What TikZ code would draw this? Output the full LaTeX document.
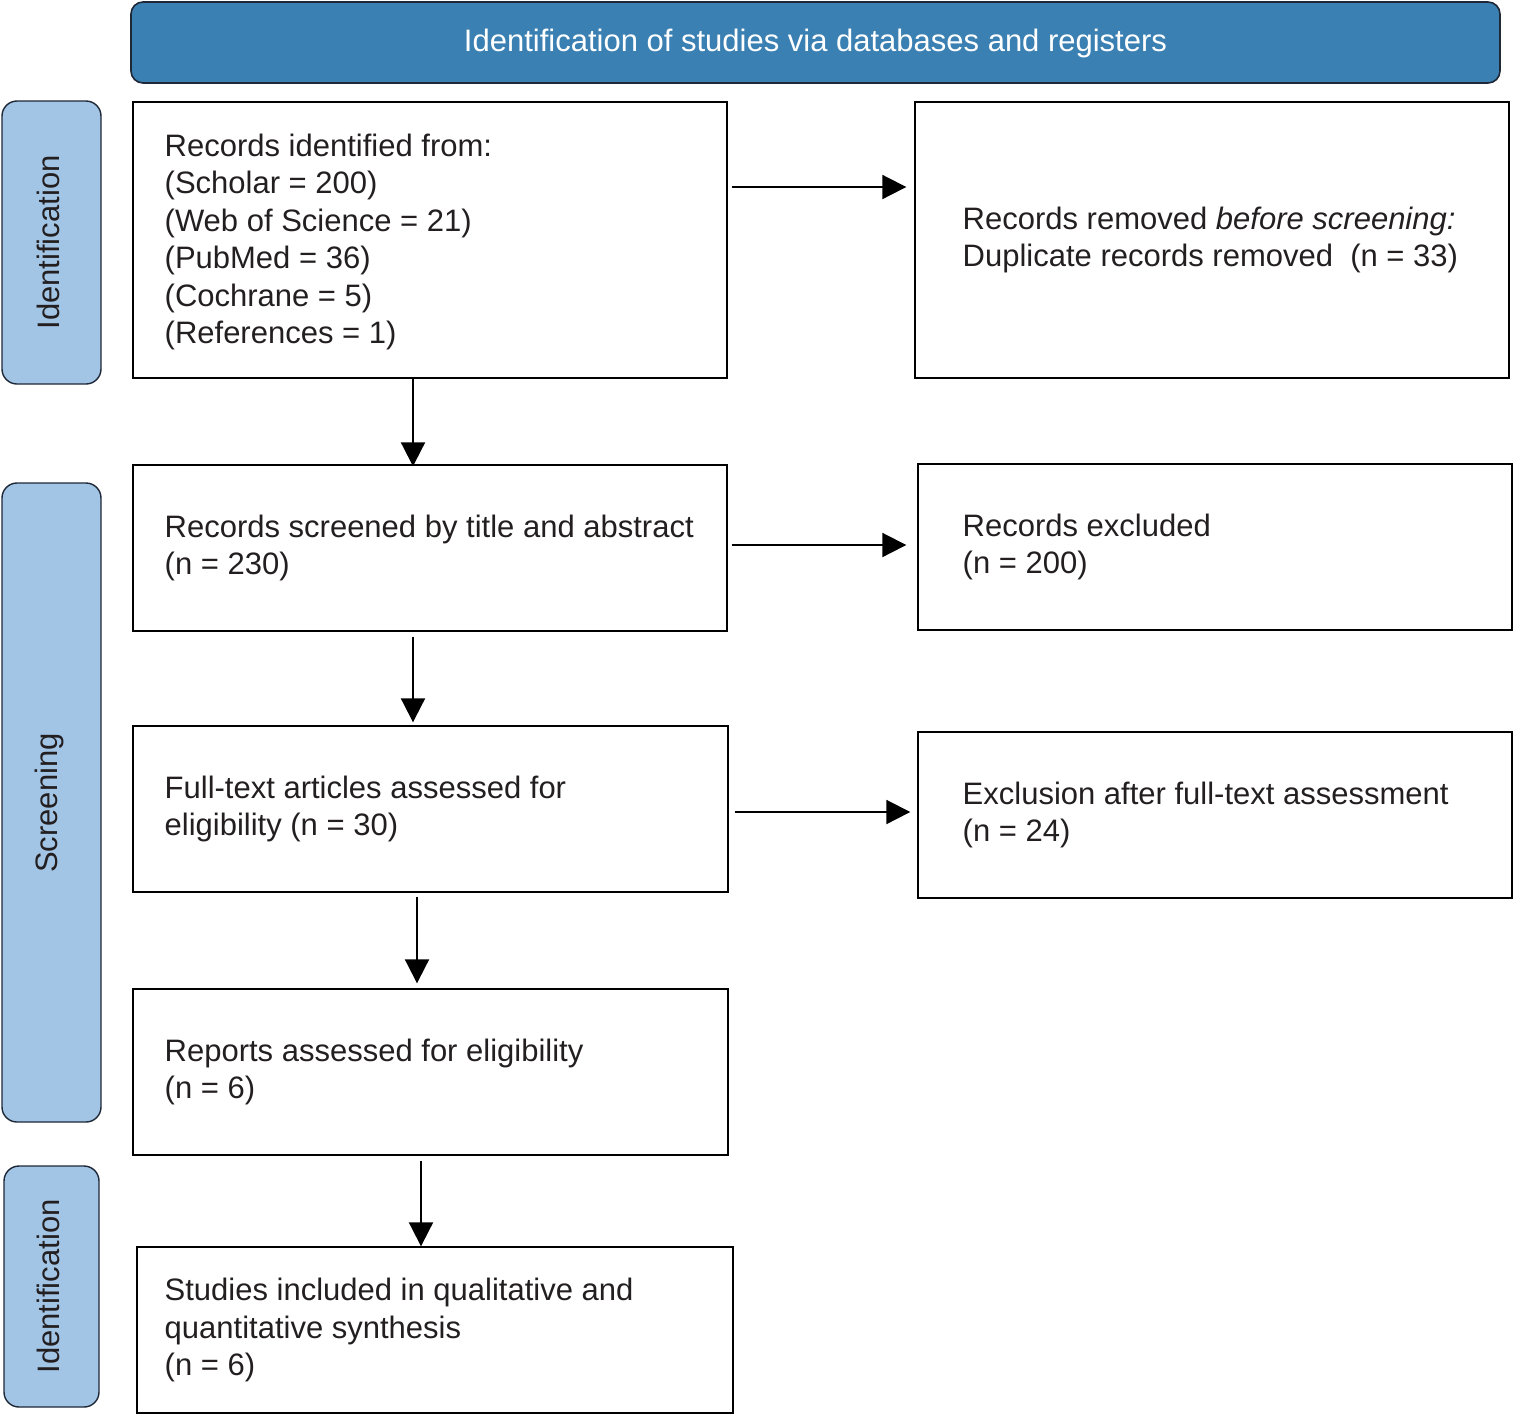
\documentclass[tikz,border=0pt]{standalone}
\usepackage{fontspec}
\setmainfont{Liberation Sans}
\usetikzlibrary{arrows.meta}
\definecolor{hdrblue}{RGB}{59,128,178}
\definecolor{sideblue}{RGB}{162,197,230}
\definecolor{edgedark}{RGB}{30,40,55}
\definecolor{txt}{RGB}{35,31,32}
\begin{document}
\begin{tikzpicture}[x=0.5pt,y=-0.5pt,
  every node/.style={font=\fontsize{15.5pt}{18.75pt}\selectfont, text=txt},
  flowbox/.style={draw=black, line width=0.7pt, rectangle, inner sep=0pt, anchor=center},
  flowtext/.style={anchor=west, align=left, inner sep=0pt},
  sidebox/.style={draw=edgedark, line width=0.7pt, fill=sideblue, rounded corners=7.5pt, anchor=center},
  sidelabel/.style={rotate=90, anchor=center, inner sep=0pt},
  hdrbox/.style={draw=edgedark, line width=0.8pt, fill=hdrblue, rounded corners=6pt, anchor=center},
  flowarrow/.style={draw=black, line width=1pt, -{Triangle[length=12pt,width=12pt]}}
]
\useasboundingbox (0,0) rectangle (1514,1415);

% header
\node[hdrbox, minimum width=684.5pt, minimum height=40.5pt] (hdr) at (815.5,42.5) {};
\node[text=white, inner sep=0pt] (hdrtext) at (815.5,43.5) {Identification of studies via databases and registers};

% side phase boxes
\node[sidebox, minimum width=49.5pt, minimum height=141.5pt] (side1) at (51.5,242.5) {};
\node[sidelabel] (side1t) at (48,242.5) {Identification};
\node[sidebox, minimum width=49.5pt, minimum height=319.5pt] (side2) at (51.5,802.5) {};
\node[sidelabel] (side2t) at (49,803) {Screening};
\node[sidebox, minimum width=47.5pt, minimum height=120.5pt] (side3) at (51.5,1286.5) {};
\node[sidelabel] (side3t) at (48,1286.5) {Identification};

% flow boxes
\node[flowbox, minimum width=297pt, minimum height=138pt] (b1) at (430,240) {};
\node[flowtext, xshift=16pt, yshift=-1pt] (b1t) at (b1.west)
  {Records identified from:\\(Scholar = 200)\\(Web of Science = 21)\\(PubMed = 36)\\(Cochrane = 5)\\(References = 1)};
\node[flowbox, minimum width=297pt, minimum height=138pt] (b2) at (1212,240) {};
\node[flowtext, xshift=24pt] (b2t) at (b2.west)
  {Records removed \textit{before screening:}\\Duplicate records removed\ \ (n = 33)};
\node[flowbox, minimum width=297pt, minimum height=83pt] (b3) at (430,548) {};
\node[flowtext, xshift=16pt] (b3t) at (b3.west)
  {Records screened by title and abstract\\(n = 230)};
\node[flowbox, minimum width=297pt, minimum height=83pt] (b4) at (1215,547) {};
\node[flowtext, xshift=22.5pt] (b4t) at (b4.west)
  {Records excluded\\(n = 200)};
\node[flowbox, minimum width=297.5pt, minimum height=83pt] (b5) at (430.5,809) {};
\node[flowtext, xshift=16pt] (b5t) at (b5.west)
  {Full-text articles assessed for\\eligibility (n = 30)};
\node[flowbox, minimum width=297pt, minimum height=83pt] (b6) at (1215,815) {};
\node[flowtext, xshift=22.5pt] (b6t) at (b6.west)
  {Exclusion after full-text assessment\\(n = 24)};
\node[flowbox, minimum width=297.5pt, minimum height=83pt] (b7) at (430.5,1072) {};
\node[flowtext, xshift=16pt] (b7t) at (b7.west)
  {Reports assessed for eligibility\\(n = 6)};
\node[flowbox, minimum width=298pt, minimum height=83pt] (b8) at (435,1330) {};
\node[flowtext, xshift=14pt] (b8t) at (b8.west)
  {Studies included in qualitative and\\quantitative synthesis\\(n = 6)};

% connectors
\draw[flowarrow, shorten <=2pt, shorten >=4pt] ([yshift=26.5pt]b1.east) -- ([yshift=26.5pt]b2.west);
\draw[flowarrow, shorten >=-1pt] ([xshift=-8.5pt]b1.south) -- ([xshift=-8.5pt]b1.south |- b3.north);
\draw[flowarrow, shorten <=2pt, shorten >=5.5pt] ([yshift=1.5pt]b3.east) -- ([yshift=1.5pt]b3.east -| b4.west);
\draw[flowarrow, shorten <=2.5pt, shorten >=1.5pt] ([xshift=-8.5pt]b3.south) -- ([xshift=-8.5pt]b3.south |- b5.north);
\draw[flowarrow, shorten <=3pt, shorten >=3.5pt] ([yshift=-1.5pt]b5.east) -- ([yshift=-1.5pt]b5.east -| b6.west);
\draw[flowarrow, shorten <=2pt, shorten >=2.5pt] ([xshift=-6.75pt]b5.south) -- ([xshift=-6.75pt]b5.south |- b7.north);
\draw[flowarrow, shorten <=2.5pt, shorten >=0pt] ([xshift=-4.75pt]b7.south) -- ([xshift=-4.75pt]b7.south |- b8.north);
\end{tikzpicture}
\end{document}
